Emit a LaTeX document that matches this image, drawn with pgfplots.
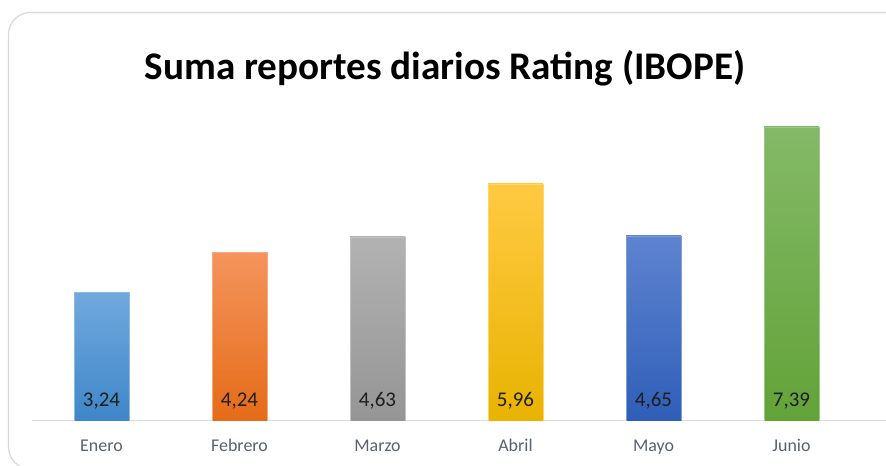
\documentclass[border=0pt]{standalone}
\usepackage{pgfplots}
\pgfplotsset{compat=1.18}
\usepackage{fontspec}
\setmainfont{Carlito}
\definecolor{framegray}{HTML}{D9D9D9}
\definecolor{axisgray}{HTML}{D9DCE3}
\definecolor{labelgray}{HTML}{586174}
\definecolor{datagray}{HTML}{1E1E1E}
\definecolor{c1t}{HTML}{70A9DD}\definecolor{c1b}{HTML}{3E86C9}
\definecolor{c2t}{HTML}{F4945C}\definecolor{c2b}{HTML}{E56B17}
\definecolor{c3t}{HTML}{B2B2B2}\definecolor{c3b}{HTML}{959595}
\definecolor{c4t}{HTML}{FFCA42}\definecolor{c4b}{HTML}{E8B300}
\definecolor{c5t}{HTML}{5E84D0}\definecolor{c5b}{HTML}{2F5EB8}
\definecolor{c6t}{HTML}{84B967}\definecolor{c6b}{HTML}{62A338}
\begin{document}
\begin{tikzpicture}[x=1bp,y=1bp]
\useasboundingbox (0,0) rectangle (886,466);
\clip (0,0) rectangle (886,466);
\fill[white] (0,0) rectangle (886,466);
\draw[framegray, line width=1.2bp, rounded corners=22bp] (8.5,-3) rectangle (950,453.5);
\node[anchor=base, font=\bfseries\fontsize{39.3}{44}\selectfont] at (445,386) {Suma reportes diarios Rating (IBOPE)};
\draw[axisgray, line width=1bp] (32,45) -- (886,45);
\begin{axis}[
  at={(32.5bp,45bp)}, anchor=south west, scale only axis,
  width=828bp, height=318.4bp,
  xmin=-0.5, xmax=5.5, ymin=0, ymax=8,
  axis line style={draw=none},
  ytick=\empty,
  xtick={0,1,2,3,4,5},
  xticklabels={Enero,Febrero,Marzo,Abril,Mayo,Junio},
  major tick length=0pt,
  xtick style={draw=none},
  xticklabel style={font=\fontsize{18}{20}\selectfont, text=labelgray, anchor=base, yshift=-30.7bp},
  /pgf/number format/.cd, use comma, fixed, fixed zerofill, precision=2, assume math mode=true,
]
\addplot[ybar, bar width=55bp, bar shift=0pt, draw=c1t!80!white, top color=c1t, bottom color=c1b] coordinates {(0,3.24)};
\addplot[ybar, bar width=55bp, bar shift=0pt, draw=c2t!80!white, top color=c2t, bottom color=c2b] coordinates {(1,4.24)};
\addplot[ybar, bar width=55bp, bar shift=0pt, draw=c3t!80!white, top color=c3t, bottom color=c3b] coordinates {(2,4.63)};
\addplot[ybar, bar width=55bp, bar shift=0pt, draw=c4t!80!white, top color=c4t, bottom color=c4b] coordinates {(3,5.96)};
\addplot[ybar, bar width=55bp, bar shift=0pt, draw=c5t!80!white, top color=c5t, bottom color=c5b] coordinates {(4,4.65)};
\addplot[ybar, bar width=55bp, bar shift=0pt, draw=c6t!80!white, top color=c6t, bottom color=c6b] coordinates {(5,7.39)};
\addplot[only marks, mark=none, draw=none, forget plot, nodes near coords, point meta=explicit,
  every node near coord/.style={anchor=base, yshift=14.3bp, inner sep=0pt, font=\fontsize{21}{24}\selectfont, text=datagray}]
  coordinates {(0,0) [3.24] (1,0) [4.24] (2,0) [4.63] (3,0) [5.96] (4,0) [4.65] (5,0) [7.39]};
\end{axis}
\end{tikzpicture}
\end{document}
